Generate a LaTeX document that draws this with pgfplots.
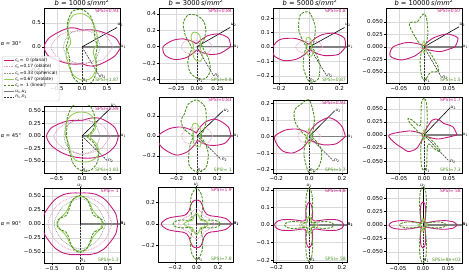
\documentclass[border=0pt]{standalone}
\usepackage{fontspec}
\setmainfont{DejaVu Sans}
\usepackage{pgfplots}
\pgfplotsset{compat=1.18}
\usepgfplotslibrary{polar}
\definecolor{cMag}{RGB}{197,27,125}
\definecolor{cPink}{RGB}{233,150,200}
\definecolor{cGry}{RGB}{140,140,140}
\definecolor{cLg}{RGB}{150,205,90}
\definecolor{cDg}{RGB}{77,146,33}
\newcommand\tkf{\fontsize{5.5}{6}\selectfont}
\newcommand\smf{\fontsize{4.5}{5}\selectfont}
\tikzset{
 lM/.style={color=cMag, line width=0.9pt},
 lP/.style={color=cPink, line width=0.8pt, dash pattern=on 0.8pt off 0.9pt},
 lG/.style={color=cGry, line width=0.7pt, dash pattern=on 0.7pt off 0.9pt},
 lL/.style={color=cLg, line width=0.9pt},
 lD/.style={color=cDg, line width=0.9pt, dash pattern=on 2.6pt off 1.2pt},
 lU/.style={color=gray, line width=1.4pt},
 lN/.style={color=black!80, line width=0.6pt, dash pattern=on 2pt off 1pt},
}
\pgfplotsset{
 cM/.style={lM, smooth, data cs=polar, forget plot},
 cP/.style={lP, smooth, data cs=polar, forget plot},
 cG/.style={lG, smooth, data cs=polar, forget plot},
 cL/.style={lL, smooth, data cs=polar, forget plot},
 cD/.style={lD, smooth, data cs=polar, forget plot},
 lU1/.style={lU, data cs=polar, forget plot},
 lU2/.style={black, line width=0.6pt, data cs=polar, forget plot},
 lN2/.style={lN, data cs=polar, forget plot},
 pan/.style={scale only axis, anchor=north west, clip mode=individual, scaled ticks=false,
   grid=major, grid style={gray!30, line width=0.4pt},
   axis line style={line width=0.6pt}, tick align=outside, tick pos=left,
   major tick length=2pt, tick style={black, line width=0.5pt},
   ticklabel style={font=\tkf, inner sep=1pt}},
}
\newcommand\lab[3]{\node[font=\smf, inner sep=0.5pt, anchor=#1] at (axis cs:#2) {#3};}
\newcommand\ttl[1]{\node[font=\fontsize{6.7}{7}\selectfont, inner sep=0pt, anchor=base] at ([yshift=2.2pt]rel axis cs:0.5,1) {\textit{b} = #1\,\textit{s}/\textit{mm}\textsuperscript{2}};}
\newcommand\spsi[2]{\node[font=\smf, text=cMag, anchor=north east, inner sep=1pt] at (rel axis cs:1,1) {SPSI=#1};
 \node[font=\smf, text=cDg, anchor=south east, inner sep=1pt] at (rel axis cs:1,0) {SPSI=#2};}
\newcommand\ua{\textit{u}\textsubscript{1}}
\newcommand\ub{\textit{u}\textsubscript{2}}
\newcommand\na{\textit{n}\textsubscript{1}}
\newcommand\nb{\textit{n}\textsubscript{2}}
\begin{document}
\begin{tikzpicture}
\path[use as bounding box] (0,0) rectangle (469pt,-272pt);
% ================= ROW 1 (alpha=30) =================
\begin{axis}[pan, at={(44pt,-8pt)}, width=76pt, height=75pt, xmin=-0.76,xmax=0.76,ymin=-0.75,ymax=0.81,
 xtick={-0.5,0,0.5}, xticklabels={−0.5,0.0,0.5}, ytick={-0.5,0,0.5}, yticklabels={−0.5,0.0,0.5}]
\addplot[lU1] coordinates {(0,0)(0,2)};
\addplot[lU2] coordinates {(30,0)(30,0.81)};
\addplot[lN2] coordinates {(-90,0)(-90,2)};
\addplot[lN2] coordinates {(-60,0)(-60,0.71)};
\addplot[cM] coordinates {(0,.78)(15,.70)(30,.56)(45,.47)(60,.41)(75,.37)(90,.35)(105,.40)(120,.46)(135,.51)(150,.58)(165,.69)(180,.76)(195,.70)(210,.56)(225,.47)(240,.41)(255,.37)(270,.35)(285,.40)(300,.46)(315,.51)(330,.58)(345,.69)(360,.78)};
\addplot[cP] coordinates {(0,.62)(30,.52)(60,.39)(90,.33)(120,.37)(150,.50)(180,.62)(210,.52)(240,.39)(270,.33)(300,.37)(330,.50)(360,.62)};
\addplot[cG] coordinates {(0,.37)(45,.37)(90,.36)(135,.37)(180,.37)(225,.37)(270,.36)(315,.37)(360,.37)};
\addplot[cL] coordinates {(0,.27)(15,.32)(30,.37)(45,.41)(60,.50)(75,.62)(90,.69)(105,.68)(120,.55)(135,.38)(150,.26)(165,.24)(180,.27)(195,.32)(210,.37)(225,.41)(240,.50)(255,.62)(270,.69)(285,.68)(300,.55)(315,.38)(330,.26)(345,.24)(360,.27)};
\addplot[cD] coordinates {(0,.32)(15,.30)(30,.31)(45,.35)(60,.48)(75,.66)(90,.78)(105,.76)(120,.58)(135,.40)(150,.32)(165,.30)(180,.32)(195,.30)(210,.31)(225,.35)(240,.48)(255,.66)(270,.78)(285,.76)(300,.58)(315,.40)(330,.32)(345,.30)(360,.32)};
\lab{west}{0.76,0}{\ua}\lab{south west}{0.70,0.405}{\ub}\lab{west}{0.355,-0.615}{\nb}\lab{south west}{0,-0.75}{\na}
\spsi{0.93}{1.87}\ttl{1000}
\end{axis}
\begin{axis}[pan, at={(159pt,-8pt)}, width=74pt, height=75pt, xmin=-0.46,xmax=0.44,ymin=-0.44,ymax=0.47,
 xtick={-0.25,0,0.25}, xticklabels={−0.25,0.00,0.25}, ytick={-0.4,-0.2,0,0.2,0.4}, yticklabels={−0.4,−0.2,0.0,0.2,0.4}]
\addplot[lU1] coordinates {(0,0)(0,2)};
\addplot[lU2] coordinates {(30,0)(30,0.47)};
\addplot[lN2] coordinates {(-90,0)(-90,2)};
\addplot[lN2] coordinates {(-60,0)(-60,0.41)};
\addplot[cM] coordinates {(0,.41)(15,.40)(30,.31)(45,.19)(60,.09)(75,.05)(90,.04)(105,.04)(120,.06)(135,.10)(150,.19)(165,.30)(180,.41)(195,.40)(210,.31)(225,.19)(240,.09)(255,.05)(270,.04)(285,.04)(300,.06)(315,.10)(330,.19)(345,.30)(360,.41)};
\addplot[cP] coordinates {(0,.19)(30,.15)(60,.09)(90,.08)(120,.09)(150,.15)(180,.19)(210,.15)(240,.09)(270,.08)(300,.09)(330,.15)(360,.19)};
\addplot[cG] coordinates {(0,.05)(45,.05)(90,.05)(135,.05)(180,.05)(225,.05)(270,.05)(315,.05)(360,.05)};
\addplot[cL] coordinates {(0,.04)(30,.05)(60,.09)(75,.14)(90,.17)(105,.18)(120,.14)(135,.08)(150,.05)(165,.04)(180,.04)(210,.05)(240,.09)(255,.14)(270,.17)(285,.18)(300,.14)(315,.08)(330,.05)(345,.04)(360,.04)};
\addplot[cD] coordinates {(0,.07)(15,.06)(30,.07)(45,.12)(60,.22)(75,.32)(90,.38)(105,.40)(120,.33)(135,.20)(150,.11)(165,.08)(180,.07)(195,.06)(210,.07)(225,.12)(240,.22)(255,.32)(270,.38)(285,.40)(300,.33)(315,.20)(330,.11)(345,.08)(360,.07)};
\lab{west}{0.44,0}{\ua}\lab{south west}{0.407,0.235}{\ub}\lab{west}{0.205,-0.355}{\nb}\lab{south west}{0,-0.44}{\na}
\spsi{0.84}{0.8}\ttl{3000}
\end{axis}
\begin{axis}[pan, at={(273pt,-8pt)}, width=74pt, height=75pt, xmin=-0.24,xmax=0.25,ymin=-0.25,ymax=0.27,
 xtick={-0.2,0,0.2}, xticklabels={−0.2,0.0,0.2}, ytick={-0.2,-0.1,0,0.1,0.2}, yticklabels={−0.2,−0.1,0.0,0.1,0.2}]
\addplot[lU1] coordinates {(0,0)(0,2)};
\addplot[lU2] coordinates {(30,0)(30,0.27)};
\addplot[lN2] coordinates {(-90,0)(-90,2)};
\addplot[lN2] coordinates {(-60,0)(-60,0.23)};
\addplot[cM] coordinates {(0,.24)(15,.24)(30,.19)(45,.12)(60,.06)(75,.03)(90,.02)(105,.02)(120,.03)(135,.06)(150,.12)(165,.20)(180,.24)(195,.24)(210,.19)(225,.12)(240,.06)(255,.03)(270,.02)(285,.02)(300,.03)(315,.06)(330,.12)(345,.20)(360,.24)};
\addplot[cP] coordinates {(0,.09)(30,.07)(60,.045)(90,.035)(120,.045)(150,.07)(180,.09)(210,.07)(240,.045)(270,.035)(300,.045)(330,.07)(360,.09)};
\addplot[cG] coordinates {(0,.022)(45,.022)(90,.022)(135,.022)(180,.022)(225,.022)(270,.022)(315,.022)(360,.022)};
\addplot[cL] coordinates {(0,.015)(30,.018)(60,.03)(75,.05)(90,.065)(105,.065)(120,.045)(135,.025)(150,.016)(180,.015)(210,.018)(240,.03)(255,.05)(270,.065)(285,.065)(300,.045)(315,.025)(330,.016)(360,.015)};
\addplot[cD] coordinates {(0,.02)(15,.02)(30,.025)(45,.04)(60,.07)(75,.15)(90,.24)(105,.23)(120,.14)(135,.06)(150,.03)(165,.02)(180,.02)(195,.02)(210,.025)(225,.04)(240,.07)(255,.15)(270,.24)(285,.23)(300,.14)(315,.06)(330,.03)(345,.02)(360,.02)};
\lab{west}{0.25,0}{\ua}\lab{south west}{0.234,0.135}{\ub}\lab{west}{0.115,-0.199}{\nb}\lab{south west}{0,-0.25}{\na}
\spsi{0.8}{0.87}\ttl{5000}
\end{axis}
\begin{axis}[pan, at={(386pt,-8pt)}, width=76pt, height=75pt, xmin=-0.076,xmax=0.076,ymin=-0.072,ymax=0.078,
 xtick={-0.05,0,0.05}, xticklabels={−0.05,0.00,0.05}, ytick={-0.05,-0.025,0,0.025,0.05}, yticklabels={−0.050,−0.025,0.000,0.025,0.050}]
\addplot[lU1] coordinates {(0,0)(0,2)};
\addplot[lU2] coordinates {(30,0)(30,0.081)};
\addplot[lN2] coordinates {(-90,0)(-90,2)};
\addplot[lN2] coordinates {(-60,0)(-60,0.071)};
\addplot[cM] coordinates {(0,.062)(15,.070)(30,.052)(45,.025)(60,.008)(75,.004)(90,.003)(105,.003)(120,.003)(135,.005)(150,.012)(165,.035)(180,.062)(195,.070)(210,.052)(225,.025)(240,.008)(255,.004)(270,.003)(285,.003)(300,.003)(315,.005)(330,.012)(345,.035)(360,.062)};
\addplot[cP] coordinates {(0,.007)(45,.005)(90,.004)(135,.005)(180,.007)(225,.005)(270,.004)(315,.005)(360,.007)};
\addplot[cL] coordinates {(0,.003)(60,.006)(90,.012)(120,.006)(180,.003)(240,.006)(270,.012)(300,.006)(360,.003)};
\addplot[cD] coordinates {(0,.003)(30,.003)(45,.005)(60,.01)(75,.03)(85,.058)(90,.066)(95,.062)(105,.052)(115,.055)(120,.056)(125,.05)(135,.02)(150,.006)(165,.003)(180,.003)(210,.003)(225,.005)(240,.01)(255,.03)(265,.058)(270,.066)(275,.062)(285,.052)(295,.055)(300,.056)(305,.05)(315,.02)(330,.006)(345,.003)(360,.003)};
\lab{west}{0.076,0}{\ua}\lab{south west}{0.070,0.0405}{\ub}\lab{west}{0.0355,-0.0615}{\nb}\lab{south west}{0,-0.072}{\na}
\spsi{0.87}{1.5}\ttl{10000}
\end{axis}
% ================= ROW 2 (alpha=45) =================
\begin{axis}[pan, at={(44pt,-106pt)}, width=76pt, height=67pt, xmin=-0.74,xmax=0.74,ymin=-0.74,ymax=0.6,
 xtick={-0.5,0,0.5}, xticklabels={−0.5,0.0,0.5}, ytick={-0.5,-0.25,0,0.25,0.5}, yticklabels={−0.50,−0.25,0.00,0.25,0.50},
 legend style={at={(-0.553,1.746)}, anchor=north west, font=\fontsize{4.3}{5}\selectfont, draw=gray!40, fill=white, fill opacity=0.8, text opacity=1, rounded corners=1.2pt, inner sep=1pt, nodes={inner sep=0.8pt}},
 legend cell align=left,
 legend image code/.code={\draw[#1] (0pt,0pt) -- (10pt,0pt);}]
\addplot[lU1] coordinates {(0,0)(0,2)};
\addplot[lU2] coordinates {(45,0)(45,0.78)};
\addplot[lN2] coordinates {(-90,0)(-90,2)};
\addplot[lN2] coordinates {(-45,0)(-45,0.70)};
\addplot[cM] coordinates {(0,.71)(15,.66)(30,.57)(45,.50)(60,.42)(75,.35)(90,.31)(105,.32)(120,.36)(135,.42)(150,.50)(165,.62)(180,.69)(195,.64)(210,.56)(225,.50)(240,.46)(255,.44)(270,.44)(285,.46)(300,.50)(315,.56)(330,.62)(345,.68)(360,.71)};
\addplot[cP] coordinates {(0,.55)(30,.45)(60,.34)(90,.30)(120,.33)(150,.43)(180,.55)(210,.45)(240,.37)(270,.36)(300,.38)(330,.46)(360,.55)};
\addplot[cG] coordinates {(0,.35)(45,.35)(90,.34)(135,.35)(180,.35)(225,.36)(270,.37)(315,.36)(360,.35)};
\addplot[cL] coordinates {(0,.14)(15,.20)(30,.30)(45,.38)(60,.43)(75,.47)(90,.48)(105,.48)(120,.46)(135,.42)(150,.37)(165,.34)(180,.32)(195,.30)(210,.30)(225,.34)(240,.42)(255,.50)(270,.52)(285,.53)(300,.52)(315,.47)(330,.33)(345,.18)(360,.14)};
\addplot[cD] coordinates {(0,.10)(15,.15)(30,.25)(45,.35)(60,.48)(75,.62)(90,.65)(105,.64)(120,.52)(135,.42)(150,.34)(165,.31)(180,.30)(195,.30)(210,.32)(225,.36)(240,.45)(255,.60)(270,.70)(285,.70)(300,.60)(315,.45)(330,.25)(345,.12)(360,.10)};
\lab{west}{0.74,0}{\ua}\lab{south west}{0.55,0.55}{\ub}\lab{west}{0.495,-0.495}{\nb}\lab{south west}{0,-0.74}{\na}
\spsi{0.89}{1.83}
\addlegendimage{lM}\addlegendentry{\textit{c}\textsubscript{\textit{L}}=\ \ 0 (planar)}
\addlegendimage{lP}\addlegendentry{\textit{c}\textsubscript{\textit{L}}=0.17 (oblate)}
\addlegendimage{lG}\addlegendentry{\textit{c}\textsubscript{\textit{L}}=0.33 (spherical)}
\addlegendimage{lL}\addlegendentry{\textit{c}\textsubscript{\textit{L}}=0.67 (prolate)}
\addlegendimage{lD}\addlegendentry{\textit{c}\textsubscript{\textit{L}}=\ \ 1 (linear)}
\addlegendimage{lU}\addlegendentry{\ua,\ub}
\addlegendimage{lN}\addlegendentry{\na,\nb}
\end{axis}
\begin{axis}[pan, at={(159pt,-97pt)}, width=74pt, height=76pt, xmin=-0.37,xmax=0.35,ymin=-0.37,ymax=0.39,
 xtick={-0.2,0,0.2}, xticklabels={−0.2,0.0,0.2}, ytick={-0.2,0,0.2}, yticklabels={−0.2,0.0,0.2}]
\addplot[lU1] coordinates {(0,0)(0,2)};
\addplot[lU2] coordinates {(45,0)(45,0.36)};
\addplot[lN2] coordinates {(-90,0)(-90,2)};
\addplot[lN2] coordinates {(-45,0)(-45,0.33)};
\addplot[cM] coordinates {(0,.33)(15,.32)(30,.28)(45,.24)(60,.16)(75,.08)(90,.04)(105,.03)(120,.05)(135,.09)(150,.18)(165,.28)(180,.38)(195,.37)(210,.32)(225,.27)(240,.18)(255,.09)(270,.05)(285,.05)(300,.07)(315,.12)(330,.19)(345,.28)(360,.33)};
\addplot[cP] coordinates {(0,.15)(30,.13)(60,.09)(90,.08)(120,.09)(150,.13)(180,.15)(210,.13)(240,.09)(270,.08)(300,.09)(330,.13)(360,.15)};
\addplot[cG] coordinates {(0,.05)(45,.05)(90,.05)(135,.05)(180,.05)(225,.05)(270,.05)(315,.05)(360,.05)};
\addplot[cL] coordinates {(0,.03)(30,.04)(60,.07)(90,.12)(105,.13)(120,.10)(150,.04)(180,.03)(210,.04)(240,.07)(270,.11)(285,.11)(300,.08)(330,.04)(360,.03)};
\addplot[cD] coordinates {(0,.04)(15,.04)(30,.06)(45,.10)(60,.18)(75,.30)(90,.36)(105,.33)(120,.25)(135,.22)(150,.15)(165,.07)(180,.04)(195,.04)(210,.05)(225,.08)(240,.15)(255,.30)(270,.36)(285,.33)(300,.22)(315,.12)(330,.06)(345,.04)(360,.04)};
\lab{west}{0.35,0}{\ua}\lab{west}{0.255,0.255}{\ub}\lab{west}{0.235,-0.235}{\nb}\lab{south west}{0,-0.37}{\na}
\spsi{0.83}{\ 1}
\end{axis}
\begin{axis}[pan, at={(273pt,-100pt)}, width=74pt, height=73pt, xmin=-0.22,xmax=0.23,ymin=-0.22,ymax=0.22,
 xtick={-0.2,0,0.2}, xticklabels={−0.2,0.0,0.2}, ytick={-0.2,-0.1,0,0.1,0.2}, yticklabels={−0.2,−0.1,0.0,0.1,0.2}]
\addplot[lU1] coordinates {(0,0)(0,2)};
\addplot[lU2] coordinates {(45,0)(45,0.22)};
\addplot[lN2] coordinates {(-90,0)(-90,2)};
\addplot[lN2] coordinates {(-45,0)(-45,0.21)};
\addplot[cM] coordinates {(0,.22)(15,.21)(30,.19)(45,.16)(60,.09)(75,.04)(90,.02)(105,.02)(120,.03)(135,.05)(150,.09)(165,.15)(180,.21)(195,.20)(210,.18)(225,.14)(240,.08)(255,.03)(270,.02)(285,.02)(300,.03)(315,.05)(330,.10)(345,.17)(360,.22)};
\addplot[cP] coordinates {(0,.07)(30,.06)(60,.04)(90,.03)(120,.04)(150,.06)(180,.07)(210,.06)(240,.04)(270,.03)(300,.04)(330,.06)(360,.07)};
\addplot[cG] coordinates {(0,.015)(45,.015)(90,.015)(135,.015)(180,.015)(225,.015)(270,.015)(315,.015)(360,.015)};
\addplot[cL] coordinates {(0,.01)(60,.02)(90,.05)(120,.02)(180,.01)(240,.02)(270,.05)(300,.02)(360,.01)};
\addplot[cD] coordinates {(0,.02)(15,.02)(30,.03)(45,.03)(60,.05)(75,.12)(90,.22)(105,.20)(120,.18)(135,.12)(150,.05)(165,.02)(180,.02)(195,.02)(210,.02)(225,.03)(240,.05)(255,.12)(270,.22)(285,.20)(300,.15)(315,.10)(330,.04)(345,.02)(360,.02)};
\lab{west}{0.23,0}{\ua}\lab{west}{0.156,0.156}{\ub}\lab{west}{0.148,-0.148}{\nb}\lab{south west}{0,-0.22}{\na}
\spsi{0.93}{1.7}
\end{axis}
\begin{axis}[pan, at={(386pt,-97pt)}, width=76pt, height=76pt, xmin=-0.076,xmax=0.076,ymin=-0.073,ymax=0.073,
 xtick={-0.05,0,0.05}, xticklabels={−0.05,0.00,0.05}, ytick={-0.05,-0.025,0,0.025,0.05}, yticklabels={−0.050,−0.025,0.000,0.025,0.050}]
\addplot[lU1] coordinates {(0,0)(0,2)};
\addplot[lU2] coordinates {(45,0)(45,0.074)};
\addplot[lN2] coordinates {(-90,0)(-90,2)};
\addplot[lN2] coordinates {(-45,0)(-45,0.072)};
\addplot[cM] coordinates {(0,.066)(15,.060)(30,.045)(45,.042)(60,.033)(75,.008)(90,.003)(120,.003)(150,.006)(165,.030)(180,.070)(195,.060)(210,.050)(225,.045)(240,.030)(255,.006)(270,.003)(300,.003)(330,.006)(345,.030)(360,.066)};
\addplot[cP] coordinates {(0,.006)(45,.005)(90,.004)(135,.005)(180,.006)(225,.005)(270,.004)(315,.005)(360,.006)};
\addplot[cL] coordinates {(0,.003)(60,.005)(90,.01)(120,.005)(180,.003)(240,.005)(270,.01)(300,.005)(360,.003)};
\addplot[cD] coordinates {(0,.003)(30,.003)(60,.006)(75,.025)(85,.06)(90,.071)(95,.06)(105,.025)(120,.02)(130,.038)(135,.045)(140,.038)(150,.015)(165,.004)(180,.003)(210,.003)(240,.006)(255,.025)(265,.06)(270,.068)(275,.06)(285,.025)(300,.02)(310,.038)(315,.045)(320,.038)(330,.015)(345,.004)(360,.003)};
\lab{west}{0.076,0}{\ua}\lab{west}{0.052,0.052}{\ub}\lab{west}{0.051,-0.051}{\nb}\lab{south west}{0,-0.073}{\na}
\spsi{1.7}{7.3}
\end{axis}
% ================= ROW 3 (alpha=90) =================
\begin{axis}[pan, at={(44pt,-188pt)}, width=76pt, height=75pt, xmin=-0.64,xmax=0.71,ymin=-0.70,ymax=0.64,
 xtick={-0.5,0,0.5}, xticklabels={−0.5,0.0,0.5}, ytick={-0.5,-0.25,0,0.25,0.5}, yticklabels={−0.50,−0.25,0.00,0.25,0.50}]
\addplot[lU1] coordinates {(0,0)(0,2)};
\addplot[lU2] coordinates {(90,0)(90,2)};
\addplot[lN2] coordinates {(-90,0)(-90,2)};
\addplot[cM] coordinates {(0,.67)(15,.66)(30,.63)(45,.62)(60,.60)(75,.57)(90,.55)(105,.57)(120,.60)(135,.62)(150,.63)(165,.66)(180,.67)(195,.66)(210,.63)(225,.62)(240,.60)(255,.57)(270,.55)(285,.57)(300,.60)(315,.62)(330,.63)(345,.66)(360,.67)};
\addplot[cP] coordinates {(0,.57)(30,.53)(45,.51)(60,.50)(90,.50)(120,.50)(135,.51)(150,.53)(180,.57)(210,.53)(225,.51)(240,.50)(270,.50)(300,.50)(315,.51)(330,.53)(360,.57)};
\addplot[cG] coordinates {(0,.46)(45,.43)(90,.45)(135,.43)(180,.46)(225,.43)(270,.45)(315,.43)(360,.46)};
\addplot[cL] coordinates {(0,.40)(15,.37)(30,.33)(45,.33)(60,.38)(75,.46)(90,.49)(105,.46)(120,.38)(135,.33)(150,.33)(165,.37)(180,.40)(195,.37)(210,.33)(225,.33)(240,.38)(255,.46)(270,.49)(285,.46)(300,.38)(315,.33)(330,.33)(345,.37)(360,.40)};
\addplot[cD] coordinates {(0,.41)(10,.40)(20,.34)(30,.29)(45,.30)(60,.36)(75,.46)(90,.51)(105,.46)(120,.36)(135,.30)(150,.29)(160,.34)(170,.40)(180,.41)(190,.40)(200,.34)(210,.29)(225,.30)(240,.36)(255,.46)(270,.51)(285,.46)(300,.36)(315,.30)(330,.29)(340,.34)(350,.40)(360,.41)};
\lab{west}{0.71,0}{\ua}\lab{west}{0.71,0}{\nb}\lab{south}{0,0.64}{\ub}\lab{south west}{0,-0.70}{\na}
\spsi{\ 1}{1.3}
\end{axis}
\begin{axis}[pan, at={(158pt,-187pt)}, width=75pt, height=75pt, xmin=-0.36,xmax=0.34,ymin=-0.35,ymax=0.34,
 xtick={-0.2,0,0.2}, xticklabels={−0.2,0.0,0.2}, ytick={-0.2,0,0.2}, yticklabels={−0.2,0.0,0.2}]
\addplot[lU1] coordinates {(0,0)(0,2)};
\addplot[lU2] coordinates {(90,0)(90,2)};
\addplot[lN2] coordinates {(-90,0)(-90,2)};
\addplot[cM] coordinates {(0,.33)(10,.28)(20,.20)(30,.15)(45,.13)(60,.14)(70,.17)(80,.21)(90,.22)(100,.21)(110,.17)(120,.14)(135,.13)(150,.15)(160,.20)(170,.28)(180,.33)(190,.28)(200,.20)(210,.15)(225,.13)(240,.14)(250,.17)(260,.21)(270,.22)(280,.21)(290,.17)(300,.14)(315,.13)(330,.15)(340,.20)(350,.28)(360,.33)};
\addplot[cP] coordinates {(0,.17)(30,.12)(45,.10)(60,.11)(90,.14)(120,.11)(135,.10)(150,.12)(180,.17)(210,.12)(225,.10)(240,.11)(270,.14)(300,.11)(315,.10)(330,.12)(360,.17)};
\addplot[cG] coordinates {(0,.08)(45,.08)(90,.08)(135,.08)(180,.08)(225,.08)(270,.08)(315,.08)(360,.08)};
\addplot[cL] coordinates {(0,.12)(15,.09)(30,.06)(45,.05)(60,.06)(75,.08)(90,.10)(105,.08)(120,.06)(135,.05)(150,.06)(165,.09)(180,.12)(195,.09)(210,.06)(225,.05)(240,.06)(255,.08)(270,.10)(285,.08)(300,.06)(315,.05)(330,.06)(345,.09)(360,.12)};
\addplot[cD] coordinates {(0,.22)(5,.21)(10,.18)(15,.14)(20,.10)(30,.07)(45,.06)(60,.09)(70,.17)(80,.27)(90,.33)(100,.27)(110,.17)(120,.09)(135,.06)(150,.07)(160,.10)(165,.14)(170,.18)(175,.21)(180,.22)(185,.21)(190,.18)(195,.14)(200,.10)(210,.07)(225,.06)(240,.09)(250,.17)(260,.27)(270,.33)(280,.27)(290,.17)(300,.09)(315,.06)(330,.07)(340,.10)(345,.14)(350,.18)(355,.21)(360,.22)};
\lab{west}{0.34,0}{\ua}\lab{west}{0.34,0}{\nb}\lab{south}{0,0.34}{\ub}\lab{south west}{0,-0.35}{\na}
\spsi{1.9}{7.8}
\end{axis}
\begin{axis}[pan, at={(273pt,-188pt)}, width=74pt, height=74pt, xmin=-0.22,xmax=0.23,ymin=-0.21,ymax=0.21,
 xtick={-0.2,0,0.2}, xticklabels={−0.2,0.0,0.2}, ytick={-0.2,-0.1,0,0.1,0.2}, yticklabels={−0.2,−0.1,0.0,0.1,0.2}]
\addplot[lU1] coordinates {(0,0)(0,2)};
\addplot[lU2] coordinates {(90,0)(90,2)};
\addplot[lN2] coordinates {(-90,0)(-90,2)};
\addplot[cM] coordinates {(0,.21)(5,.20)(10,.17)(15,.12)(20,.08)(30,.045)(45,.035)(60,.04)(70,.06)(75,.08)(80,.10)(85,.12)(90,.13)(95,.12)(100,.10)(105,.08)(110,.06)(120,.04)(135,.035)(150,.045)(160,.08)(165,.12)(170,.17)(175,.20)(180,.21)(185,.20)(190,.17)(195,.12)(200,.08)(210,.045)(225,.035)(240,.04)(250,.06)(255,.08)(260,.10)(265,.12)(270,.13)(275,.12)(280,.10)(285,.08)(290,.06)(300,.04)(315,.035)(330,.045)(340,.08)(345,.12)(350,.17)(355,.20)(360,.21)};
\addplot[cP] coordinates {(0,.06)(45,.04)(90,.05)(135,.04)(180,.06)(225,.04)(270,.05)(315,.04)(360,.06)};
\addplot[cG] coordinates {(0,.02)(45,.02)(90,.02)(135,.02)(180,.02)(225,.02)(270,.02)(315,.02)(360,.02)};
\addplot[cL] coordinates {(0,.05)(20,.03)(45,.02)(70,.03)(90,.05)(110,.03)(135,.02)(160,.03)(180,.05)(200,.03)(225,.02)(250,.03)(270,.05)(290,.03)(315,.02)(340,.03)(360,.05)};
\addplot[cD] coordinates {(0,.15)(5,.14)(10,.11)(15,.07)(20,.045)(30,.025)(45,.02)(60,.025)(70,.045)(75,.07)(80,.12)(85,.18)(90,.21)(95,.18)(100,.12)(105,.07)(110,.045)(120,.025)(135,.02)(150,.025)(160,.045)(165,.07)(170,.11)(175,.14)(180,.15)(185,.14)(190,.11)(195,.07)(200,.045)(210,.025)(225,.02)(240,.025)(250,.045)(255,.07)(260,.12)(265,.18)(270,.21)(275,.18)(280,.12)(285,.07)(290,.045)(300,.025)(315,.02)(330,.025)(340,.045)(345,.07)(350,.11)(355,.14)(360,.15)};
\lab{west}{0.23,0}{\ua}\lab{west}{0.23,0}{\nb}\lab{south}{0,0.21}{\ub}\lab{south west}{0,-0.21}{\na}
\spsi{4.8}{\ 58}
\end{axis}
\begin{axis}[pan, at={(386pt,-188pt)}, width=76pt, height=75pt, xmin=-0.074,xmax=0.078,ymin=-0.071,ymax=0.069,
 xtick={-0.05,0,0.05}, xticklabels={−0.05,0.00,0.05}, ytick={-0.05,-0.025,0,0.025,0.05}, yticklabels={−0.050,−0.025,0.000,0.025,0.050}]
\addplot[lU1] coordinates {(0,0)(0,2)};
\addplot[lU2] coordinates {(90,0)(90,2)};
\addplot[lN2] coordinates {(-90,0)(-90,2)};
\addplot[cM] coordinates {(0,.068)(5,.062)(10,.046)(15,.028)(20,.016)(30,.008)(45,.006)(60,.008)(70,.014)(75,.02)(80,.03)(85,.04)(90,.043)(95,.04)(100,.03)(105,.02)(110,.014)(120,.008)(135,.006)(150,.008)(160,.016)(165,.028)(170,.046)(175,.062)(180,.068)(185,.062)(190,.046)(195,.028)(200,.016)(210,.008)(225,.006)(240,.008)(250,.014)(255,.02)(260,.03)(265,.04)(270,.043)(275,.04)(280,.03)(285,.02)(290,.014)(300,.008)(315,.006)(330,.008)(340,.016)(345,.028)(350,.046)(355,.062)(360,.068)};
\addplot[cP] coordinates {(0,.006)(45,.004)(90,.005)(135,.004)(180,.006)(225,.004)(270,.005)(315,.004)(360,.006)};
\addplot[cL] coordinates {(0,.01)(45,.004)(90,.012)(135,.004)(180,.01)(225,.004)(270,.012)(315,.004)(360,.01)};
\addplot[cD] coordinates {(0,.047)(5,.042)(10,.032)(15,.02)(20,.012)(30,.006)(45,.004)(60,.006)(70,.012)(75,.022)(80,.04)(85,.062)(90,.072)(95,.062)(100,.04)(105,.022)(110,.012)(120,.006)(135,.004)(150,.006)(160,.012)(165,.02)(170,.032)(175,.042)(180,.047)(185,.042)(190,.032)(195,.02)(200,.012)(210,.006)(225,.004)(240,.006)(250,.012)(255,.022)(260,.04)(265,.062)(270,.072)(275,.062)(280,.04)(285,.022)(290,.012)(300,.006)(315,.004)(330,.006)(340,.012)(345,.02)(350,.032)(355,.042)(360,.047)};
\lab{west}{0.078,0}{\ua}\lab{west}{0.078,0}{\nb}\lab{south}{0,0.069}{\ub}\lab{south west}{0,-0.071}{\na}
\spsi{\ 58}{8e+03}
\end{axis}
% row labels
\node[font=\fontsize{5.2}{6}\selectfont, inner sep=0pt] at (11pt,-44pt) {\textit{α} = 30°};
\node[font=\fontsize{5.2}{6}\selectfont, inner sep=0pt] at (11pt,-136pt) {\textit{α} = 45°};
\node[font=\fontsize{5.2}{6}\selectfont, inner sep=0pt] at (11pt,-224pt) {\textit{α} = 90°};
\end{tikzpicture}
\end{document}
